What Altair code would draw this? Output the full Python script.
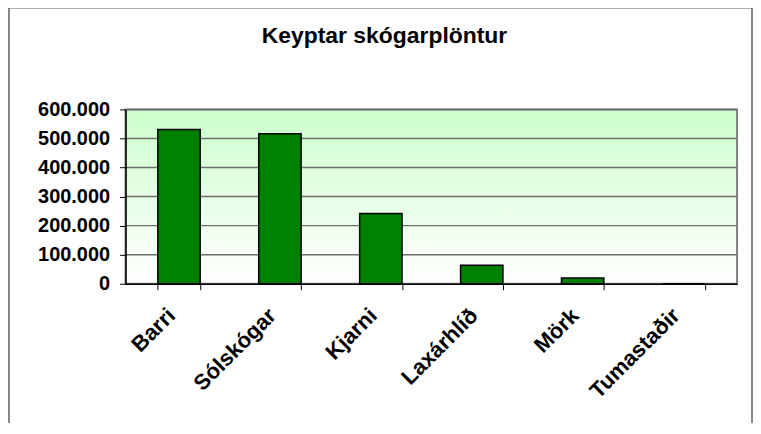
import altair as alt
import pandas as pd

names = ["Barri", "Sólskógar", "Kjarni", "Laxárhlíð", "Mörk", "Tumastaðir"]
values = [531000, 516000, 242000, 64000, 19500, 0]
grid_values = [100000, 200000, 300000, 400000, 500000, 600000]
y_ticks = [0, 100000, 200000, 300000, 400000, 500000, 600000]

df = pd.DataFrame({"name": names, "value": values})
grid_df = pd.DataFrame({"value": grid_values})
one = pd.DataFrame({"k": [0]})

W, H = 614, 175
FONT = "Liberation Sans"

yscale = alt.Scale(domain=[0, 600000])
yaxis = alt.Axis(title="", values=y_ticks, grid=False,
                 labelExpr="replace(format(datum.value, ','), ',', '.')",
                 labelFontSize=20, labelFontWeight="bold", labelFont=FONT,
                 labelColor="black", labelPadding=10, tickSize=6,
                 tickColor="black", domainColor="black", domainWidth=1.5, zindex=1)

gradient = alt.LinearGradient(
    gradient="linear",
    stops=[alt.GradientStop(offset=0, color="#ccffcc"),
           alt.GradientStop(offset=1, color="#ffffff")],
    x1=0, x2=0, y1=0, y2=1,
)

bg = alt.Chart(one).mark_rect(fill=gradient, stroke="#808080", strokeWidth=2).encode(
    x=alt.value(0), x2=alt.value(W), y=alt.value(0), y2=alt.value(H)
)

outer = alt.Chart(one).mark_rect(fill="transparent", stroke="#606060", strokeWidth=1.5).encode(
    x=alt.value(-117), x2=alt.value(629), y=alt.value(-102), y2=alt.value(340)
)

grid = alt.Chart(grid_df).mark_rule(color="#6e6e6e", strokeWidth=1.5).encode(
    y=alt.Y("value:Q", scale=yscale, axis=yaxis)
)

bars = alt.Chart(df).mark_bar(color="#008000", stroke="black", strokeWidth=1.5).encode(
    x=alt.X("name:N", sort=names,
            scale=alt.Scale(paddingInner=0.58, paddingOuter=0.32),
            axis=alt.Axis(title="", labelAngle=-45, labelAlign="right", labelBaseline="middle",
                          labelFontSize=22, labelFontWeight="bold", labelFont=FONT,
                          labelColor="black", labelPadding=22, labelOffset=-8,
                          tickBand="extent", tickSize=6, tickColor="black",
                          domainColor="black", domainWidth=1.5, zindex=1)),
    y=alt.Y("value:Q", scale=yscale, axis=yaxis),
)

chart = alt.layer(outer, bg, grid, bars).properties(
    width=W, height=H,
    title=alt.TitleParams("Keyptar skógarplöntur", fontSize=23, fontWeight="bold", font=FONT,
                          color="black", anchor="middle", frame="group", dx=-47,
                          offset=-59, baseline="alphabetic"),
    autosize=alt.AutoSizeParams(type="none"),
    padding={"left": 118, "top": 101, "right": 16, "bottom": 139},
).configure_view(stroke="transparent")

chart.save("out.html", embed_options={"renderer": "svg", "actions": False})
